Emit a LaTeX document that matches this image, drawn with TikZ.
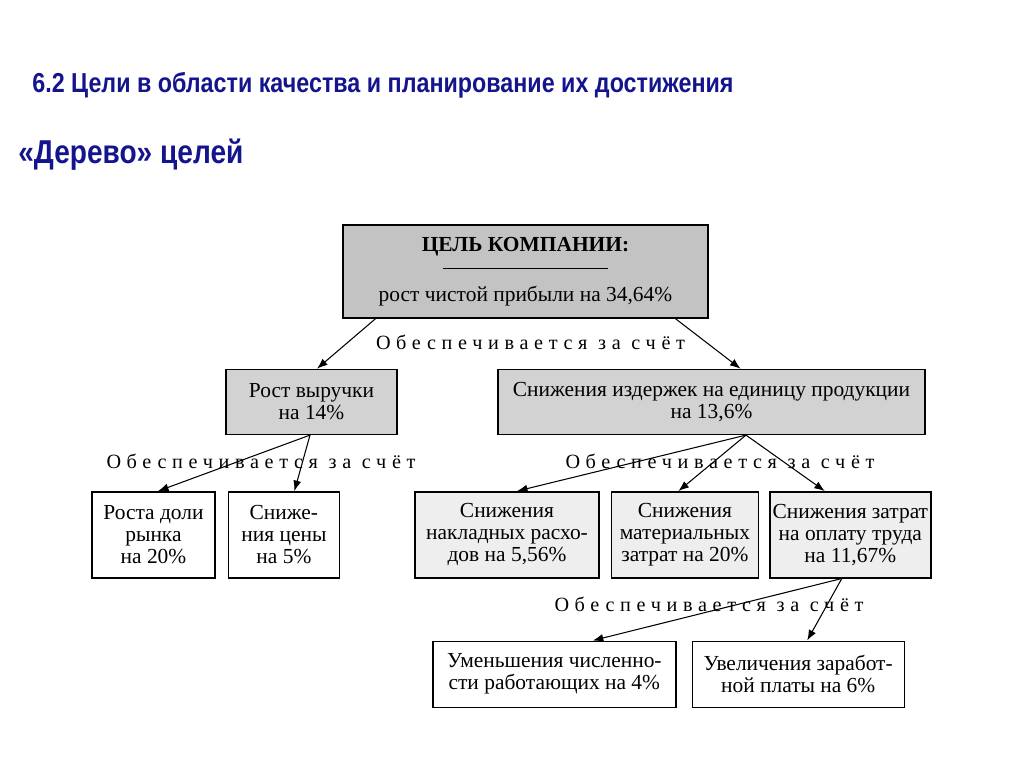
\documentclass[tikz,border=0pt]{standalone}
\usepackage{fontspec}
\setmainfont{Liberation Serif}
\newfontfamily\headfont[FakeStretch=0.85]{Liberation Sans}
\newfontfamily\spacedfont[LetterSpace=28]{Liberation Serif}
\usepackage{xcolor}
\definecolor{TitleBlue}{HTML}{14148C}
\definecolor{GoalGray}{HTML}{C3C3C3}
\definecolor{MidGray}{HTML}{D2D2D2}
\definecolor{LowGray}{HTML}{EEEEEE}
\usepackage{tikz}
\usetikzlibrary{arrows.meta, positioning}

\begin{document}
\begin{tikzpicture}[
  node distance=1cm and 0.2cm,
  every node/.style={font=\fontsize{12.2}{12.5}\selectfont},
  box/.style={draw, line width=0.8pt, align=center, inner sep=1pt},
  goal/.style={box, fill=GoalGray},
  mid/.style={box, fill=MidGray, minimum height=1.3cm},
  low/.style={box, fill=LowGray, minimum height=1.72cm},
  wbox/.style={box, fill=white},
  lbl/.style={font=\spacedfont\fontsize{11.5}{12}\selectfont},
  head/.style={anchor=west, inner sep=0pt, text=TitleBlue},
  arr/.style={-{Latex[length=6pt,width=4.5pt]}, line width=0.6pt}
]
\useasboundingbox (0,0) rectangle (20.48,-15.34);

\node[head, font=\headfont\bfseries\fontsize{15.6}{18}\selectfont] (title) at (0.64,-1.7)
  {6.2 Цели в области качества и планирование их достижения};
\node[head, font=\headfont\bfseries\fontsize{18.8}{22}\selectfont] (subtitle) at (0.36,-3.1)
  {«Дерево» целей};

% goal of the company
\node[goal, minimum width=7.3cm, minimum height=1.86cm] (top) at (10.51,-5.43)
  {\textbf{ЦЕЛЬ КОМПАНИИ:}\\[-2.5pt]\rule{3.3cm}{0.6pt}\\[6pt]рост чистой прибыли на 34,64\%};

% second level
\node[mid, minimum width=3.42cm] (rev) [below=1cm of top, xshift=-4.28cm]
  {Рост выручки\\на 14\%};
\node[mid, minimum width=8.54cm] (costs) [below=1cm of top, xshift=3.72cm]
  {Снижения издержек на единицу продукции\\на 13,6\%};

% third level
\node[wbox, minimum width=2.46cm, minimum height=1.72cm] (share) [below=1.12cm of rev, xshift=-3.16cm]
  {Роста доли\\рынка\\на 20\%};
\node[wbox, minimum width=2.22cm, minimum height=1.72cm] (price) [right=0.24cm of share]
  {Сниже-\\ния цены\\на 5\%};
\node[low, minimum width=3.68cm] (ovh) [below=1.12cm of costs, xshift=-4.09cm]
  {Снижения\\накладных расхо-\\дов на 5,56\%};
\node[low, minimum width=2.94cm] (mat) [right=0.22cm of ovh]
  {Снижения\\материальных\\затрат на 20\%};
\node[low, minimum width=3.22cm] (labor) [right=0.2cm of mat]
  {Снижения затрат\\на оплату труда\\на 11,67\%};

% fourth level
\node[wbox, minimum width=4.86cm, minimum height=1.32cm] (staff) [below=1.24cm of labor, xshift=-5.92cm]
  {Уменьшения численно-\\сти работающих на 4\%};
\node[wbox, minimum width=4.24cm, minimum height=1.32cm] (wage) [right=0.3cm of staff]
  {Увеличения заработ-\\ной платы на 6\%};

% "provided by" labels
\node[lbl] (by1) at (10.61,-6.84) {Обеспечивается за счёт};
\node[lbl] (by2) at (5.22,-9.22) {Обеспечивается за счёт};
\node[lbl] (by3) at (14.4,-9.22) {Обеспечивается за счёт};
\node[lbl] (by4) at (14.18,-12.08) {Обеспечивается за счёт};

\draw[arr] ([xshift=-3cm]top.south) -- ([xshift=0.11cm]rev.north);
\draw[arr] ([xshift=3cm]top.south) -- ([xshift=0.58cm]costs.north);
\draw[arr] ([xshift=-0.03cm]rev.south) -- ([xshift=0.09cm]share.north);
\draw[arr] ([xshift=-0.03cm]rev.south) -- ([xshift=0.21cm]price.north);
\draw[arr] ([xshift=0.69cm]costs.south) -- ([xshift=0.2cm]ovh.north);
\draw[arr] ([xshift=0.69cm]costs.south) -- ([xshift=-0.13cm]mat.north);
\draw[arr] ([xshift=0.69cm]costs.south) -- ([xshift=-0.51cm]labor.north);
\draw[arr] ([xshift=-0.17cm]labor.south) -- ([xshift=0.77cm]staff.north);
\draw[arr] ([xshift=-0.17cm]labor.south) -- ([xshift=0.18cm]wage.north);
\end{tikzpicture}
\end{document}
